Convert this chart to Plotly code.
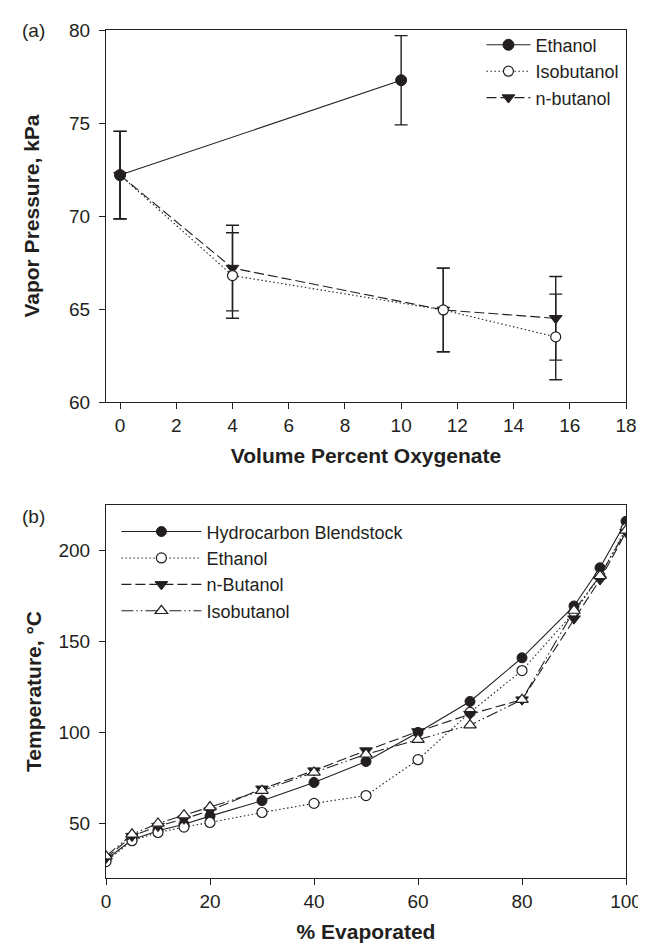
import plotly.graph_objects as go

# ---------- Data: panel (a) ----------
a_eth_x = [0, 10]
a_eth_y = [72.2, 77.3]
a_eth_err = [2.35, 2.4]

a_iso_x = [0, 4, 11.5, 15.5]
a_iso_y = [72.2, 66.8, 64.95, 63.5]
a_iso_err = [2.35, 2.3, 2.25, 2.3]

a_nbu_x = [0, 4, 11.5, 15.5]
a_nbu_y = [72.2, 67.2, 64.95, 64.5]
a_nbu_err = [2.35, 2.3, 2.25, 2.25]

# ---------- Data: panel (b) ----------
b_x = [0, 5, 10, 15, 20, 30, 40, 50, 60, 70, 80, 90, 95, 100]
b_hc = [30, 41, 46, 49.5, 54, 62.5, 72.5, 84, 100, 117, 141, 169.5, 190.5, 216]
b_eth = [29, 40.5, 45, 48, 50.5, 56, 61, 65.3, 85, 111, 134, 166, 186, 212]
b_nbu = [31, 43, 48.5, 52.5, 57, 69, 79, 90, 100.5, 110, 118, 162.5, 184, 210]
b_iso = [32, 44, 50, 54.5, 59, 68, 78, 88, 96, 104, 118, 167, 186, 211]

a_xticks = [0, 2, 4, 6, 8, 10, 12, 14, 16, 18]
a_yticks = [60, 65, 70, 75, 80]
b_xticks = [0, 20, 40, 60, 80, 100]
b_yticks = [50, 100, 150, 200]

INK = "#231f20"
FONT = "Liberation Sans"
LW = 1.1
MS = 10

DOT = "1.5px,2.5px"
DASH = "10px,4px"
DASHDOTDOT = "12px,3px,1.5px,3px,1.5px,3px"

fig = go.Figure()

def err(vals):
    return dict(type="data", array=vals, visible=True, color=INK, thickness=1.4, width=6.5)

# panel (a) traces: draw n-butanol, isobutanol, then ethanol on top
fig.add_trace(go.Scatter(
    x=a_nbu_x, y=a_nbu_y, name="n-butanol", mode="lines+markers",
    line=dict(color=INK, width=LW, dash=DASH),
    marker=dict(symbol="triangle-down", size=MS + 1, color=INK, line=dict(color=INK, width=1)),
    error_y=err(a_nbu_err), xaxis="x", yaxis="y", legend="legend", legendrank=3))
fig.add_trace(go.Scatter(
    x=a_iso_x, y=a_iso_y, name="Isobutanol", mode="lines+markers",
    line=dict(color=INK, width=LW, dash=DOT),
    marker=dict(symbol="circle", size=MS, color="white", line=dict(color=INK, width=1.2)),
    error_y=err(a_iso_err), xaxis="x", yaxis="y", legend="legend", legendrank=2))
fig.add_trace(go.Scatter(
    x=a_eth_x, y=a_eth_y, name="Ethanol", mode="lines+markers",
    line=dict(color=INK, width=LW),
    marker=dict(symbol="circle", size=MS + 1, color=INK, line=dict(color=INK, width=1)),
    error_y=err(a_eth_err), xaxis="x", yaxis="y", legend="legend", legendrank=1))

# panel (b) traces
fig.add_trace(go.Scatter(
    x=b_x, y=b_hc, name="Hydrocarbon Blendstock", mode="lines+markers",
    line=dict(color=INK, width=LW),
    marker=dict(symbol="circle", size=MS, color=INK, line=dict(color=INK, width=1)),
    xaxis="x2", yaxis="y2", legend="legend2"))
fig.add_trace(go.Scatter(
    x=b_x, y=b_eth, name="Ethanol", mode="lines+markers",
    line=dict(color=INK, width=LW, dash=DOT),
    marker=dict(symbol="circle", size=MS, color="white", line=dict(color=INK, width=1.2)),
    xaxis="x2", yaxis="y2", legend="legend2"))
fig.add_trace(go.Scatter(
    x=b_x, y=b_nbu, name="n-Butanol", mode="lines+markers",
    line=dict(color=INK, width=LW, dash=DASH),
    marker=dict(symbol="triangle-down", size=MS + 1, color=INK, line=dict(color=INK, width=1)),
    xaxis="x2", yaxis="y2", legend="legend2"))
fig.add_trace(go.Scatter(
    x=b_x, y=b_iso, name="Isobutanol", mode="lines+markers",
    line=dict(color=INK, width=LW, dash=DASHDOTDOT),
    marker=dict(symbol="triangle-up", size=MS + 1, color="white", line=dict(color=INK, width=1.2)),
    xaxis="x2", yaxis="y2", legend="legend2"))

axis_common = dict(
    showline=True, mirror=True, linecolor=INK, linewidth=1.2,
    ticks="outside", ticklen=6, tickwidth=1.2, tickcolor=INK,
    showgrid=False, zeroline=False,
    tickfont=dict(family=FONT, size=19, color=INK),
)
title_font = dict(family=FONT, size=21, color=INK, weight="bold")

fig.update_layout(
    width=646, height=944,
    margin=dict(l=98, r=12, t=21, b=66),
    paper_bgcolor="white", plot_bgcolor="white",
    font=dict(family=FONT, color=INK),
    xaxis=dict(domain=[0, 1], anchor="y", range=[-0.5, 18], tickvals=a_xticks,
               title=dict(text="Volume Percent Oxygenate", font=title_font, standoff=13),
               **axis_common),
    yaxis=dict(domain=[0.5613, 1.0], anchor="x", range=[60, 80], tickvals=a_yticks,
               ticklabelstandoff=5,
               title=dict(text="Vapor Pressure, kPa", font=title_font, standoff=23),
               **axis_common),
    xaxis2=dict(domain=[0, 1], anchor="y2", range=[0, 100], tickvals=b_xticks,
                title=dict(text="% Evaporated", font=title_font, standoff=13),
                **axis_common),
    yaxis2=dict(domain=[0, 0.4399], anchor="x2", range=[20, 225], tickvals=b_yticks,
                ticklabelstandoff=5,
                title=dict(text="Temperature, °C", font=title_font, standoff=11),
                **axis_common),
    legend=dict(x=0.722, y=1.004, xanchor="left", yanchor="top",
                bgcolor="rgba(0,0,0,0)", borderwidth=0, itemwidth=44,
                font=dict(family=FONT, size=18, color=INK), tracegroupgap=0),
    legend2=dict(x=0.02, y=0.43, xanchor="left", yanchor="top",
                 bgcolor="rgba(0,0,0,0)", borderwidth=0, itemwidth=80,
                 font=dict(family=FONT, size=18, color=INK)),
    showlegend=True,
    annotations=[
        dict(text="(a)", xref="paper", yref="paper", x=-0.165, y=1.0,
             xanchor="left", yanchor="middle", showarrow=False,
             font=dict(family=FONT, size=19, color=INK)),
        dict(text="(b)", xref="paper", yref="paper", x=-0.165, y=0.426,
             xanchor="left", yanchor="middle", showarrow=False,
             font=dict(family=FONT, size=19, color=INK)),
    ],
)

fig.write_html("out.html")
